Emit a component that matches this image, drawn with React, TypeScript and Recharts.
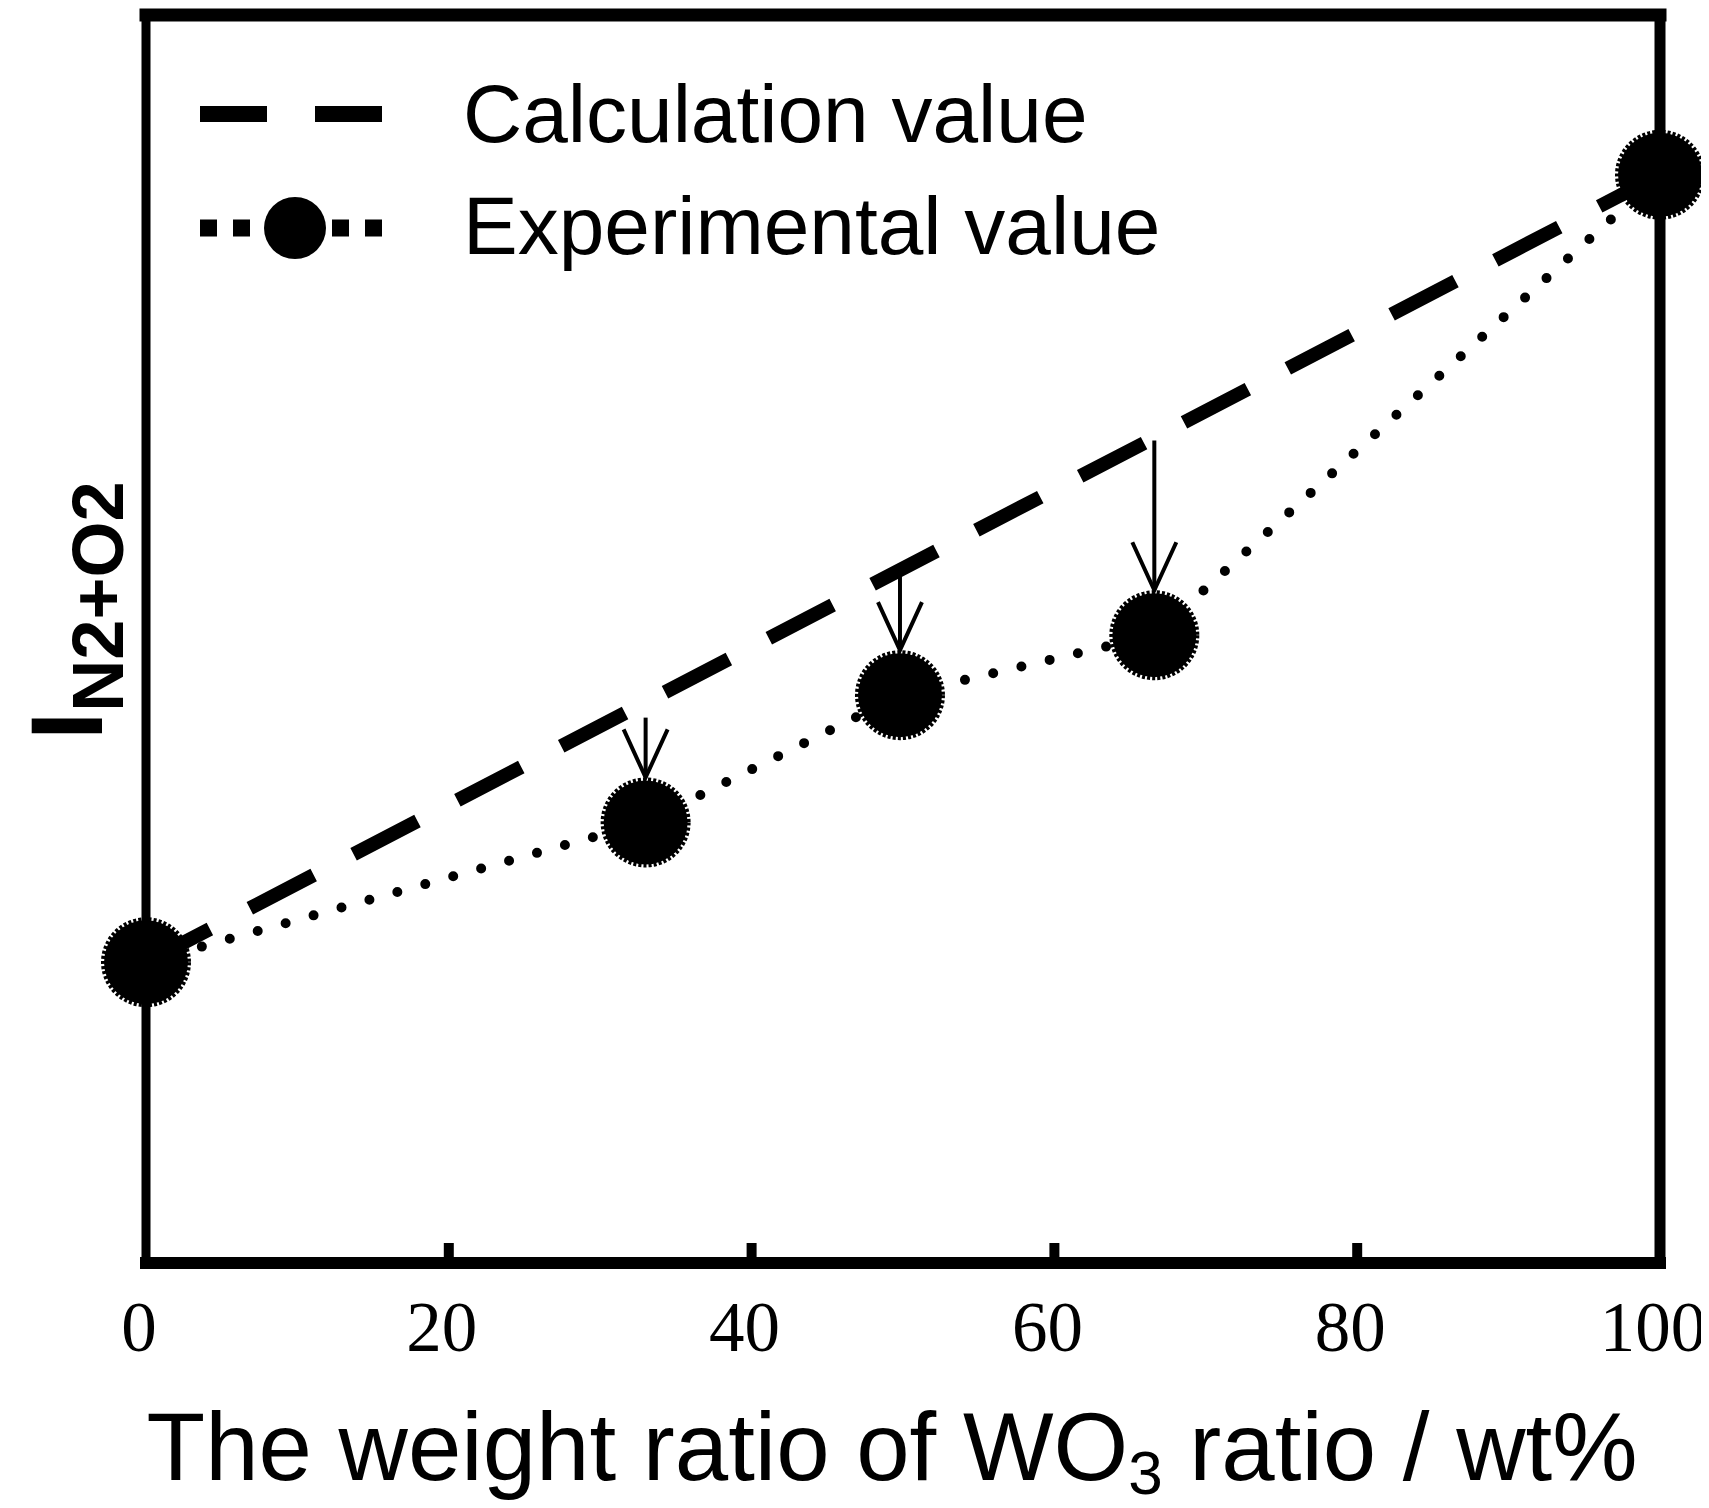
import React from "react";
import { LineChart, Line, XAxis, YAxis, ReferenceLine, Legend } from "recharts";

// WO3 weight ratio (wt%) of the measured samples
const wo3Ratio = [0, 33.0, 49.8, 66.6, 100];
// Measured intensity I(N2+O2), arbitrary units
const experimentalValues = [24.1, 35.3, 45.5, 50.3, 87.2];
// Linear mixing rule between the two pure components
const calcRatio = [0, 100];
const calculationValues = [24.1, 87.2];
// Drop arrows from the calculated line down to the measured points
const arrowRatio = [33.0, 49.8, 66.6];
const arrowFrom = [43.7, 55.2, 65.9];
const arrowTo = [35.3, 45.5, 50.3];
const xTicks = [0, 20, 40, 60, 80, 100];

const expData = wo3Ratio.map((x, i) => ({ x, y: experimentalValues[i] }));
const calcData = calcRatio.map((x, i) => ({ x, y: calculationValues[i] }));

const SANS = "'Liberation Sans', Arial, sans-serif";
const SERIF = "'Liberation Serif', 'Times New Roman', serif";
const MARKER_R = 42;

const Marker = (props: any) => {
  const { cx, cy, index } = props;
  if (cx == null || cy == null) return <g key={`m-${index}`} />;
  return (
    <circle
      key={`m-${index}`}
      cx={cx}
      cy={cy}
      r={MARKER_R}
      fill="#000"
      stroke="#000"
      strokeWidth={6}
      strokeDasharray="3 2"
    />
  );
};

const Arrow = (props: any) => {
  const { x1, y1, x2, y2 } = props;
  const tipY = y2 - MARKER_R - 3;
  const head = 48;
  const half = 22;
  return (
    <g>
      <line x1={x1} y1={y1} x2={x2} y2={tipY} stroke="#000" strokeWidth={4} />
      <polyline
        points={`${x2 - half},${tipY - head} ${x2},${tipY} ${x2 + half},${tipY - head}`}
        fill="none"
        stroke="#000"
        strokeWidth={4}
      />
    </g>
  );
};

const XTick = (props: any) => {
  const { x, y, payload } = props;
  const v = payload.value;
  return (
    <g>
      {v !== 0 && v !== 100 && (
        <line x1={x} y1={y} x2={x} y2={y - 20} stroke="#000" strokeWidth={10} />
      )}
      <text x={x - 7} y={y + 88} textAnchor="middle" fontFamily={SERIF} fontSize={71} fill="#000">
        {v}
      </text>
    </g>
  );
};

const XTitle = () => (
  <text x={884} y={1472} textAnchor="middle" fontFamily={SANS} fontSize={96} fill="#000">
    The weight ratio of WO
    <tspan fontSize={62} dy={14}>3</tspan>
    <tspan dy={-14}> ratio / wt%</tspan>
  </text>
);

const YTitle = () => (
  <text transform="rotate(-90)" x={-732} y={94} fontFamily={SANS} fontWeight="bold" fill="#000">
    <tspan fontSize={102}>I</tspan>
    <tspan fontSize={72} dy={21}>N2+O2</tspan>
  </text>
);

const LegendBox = () => (
  <svg width={1200} height={300} style={{ display: "block" }}>
    <line x1={192} y1={106} x2={375} y2={106} stroke="#000" strokeWidth={16} strokeDasharray="67 48" />
    <text x={455} y={134} fontFamily={SANS} fontSize={82} fill="#000">
      Calculation value
    </text>
    <line x1={192} y1={220} x2={375} y2={220} stroke="#000" strokeWidth={17} strokeDasharray="17 16" />
    <circle cx={287} cy={220} r={31} fill="#000" />
    <text x={455} y={246} fontFamily={SANS} fontSize={82} fill="#000">
      Experimental value
    </text>
  </svg>
);

export default function App() {
  return (
    <div style={{ width: 1701, height: 1500, background: "#fff", fontFamily: SANS }}>
      <LineChart width={1701} height={1500} margin={{ top: 7, right: 49, bottom: 45, left: 0 }}>
        <XAxis
          type="number"
          dataKey="x"
          domain={[0, 100]}
          ticks={xTicks}
          allowDuplicatedCategory={false}
          height={200}
          tickSize={0}
          tickMargin={0}
          tickLine={false}
          tick={<XTick />}
          axisLine={{ stroke: "#000", strokeWidth: 12, strokeLinecap: "square" }}
          label={{ content: () => <XTitle /> }}
        />
        <YAxis
          type="number"
          domain={[0, 100]}
          width={138}
          tick={false}
          tickLine={false}
          axisLine={{ stroke: "#000", strokeWidth: 9, strokeLinecap: "square" }}
          label={{ content: () => <YTitle /> }}
        />
        <ReferenceLine y={100} stroke="#000" strokeWidth={13} strokeLinecap="square" ifOverflow="visible" />
        <ReferenceLine x={100} stroke="#000" strokeWidth={11} strokeLinecap="square" ifOverflow="visible" />
        <Legend
          layout="vertical"
          align="center"
          verticalAlign="middle"
          wrapperStyle={{ left: 0, top: 0, width: 1200, height: 300 }}
          content={() => <LegendBox />}
        />
        <Line
          data={calcData}
          dataKey="y"
          type="linear"
          stroke="#000"
          strokeWidth={14}
          strokeDasharray="72 45"
          dot={false}
          activeDot={false}
          legendType="none"
          isAnimationActive={false}
        />
        <Line
          data={expData}
          dataKey="y"
          type="linear"
          stroke="#000"
          strokeWidth={10}
          strokeDasharray="0 29"
          strokeLinecap="round"
          dot={<Marker />}
          activeDot={false}
          isAnimationActive={false}
        />
        {arrowRatio.map((x, i) => (
          <ReferenceLine
            key={`arrow-${x}`}
            segment={[
              { x, y: arrowFrom[i] },
              { x, y: arrowTo[i] },
            ]}
            shape={<Arrow />}
            ifOverflow="visible"
          />
        ))}
      </LineChart>
    </div>
  );
}
